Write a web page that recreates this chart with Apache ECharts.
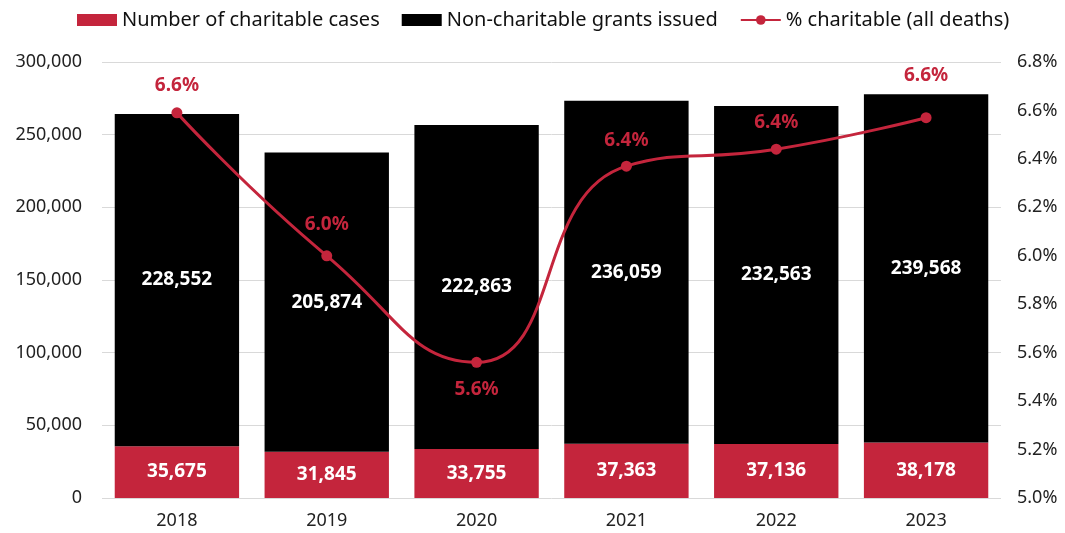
<!DOCTYPE html>
<html><head><meta charset="utf-8">
<script src="https://cdn.jsdelivr.net/npm/echarts@6/dist/echarts.min.js"></script>
<style>html,body{margin:0;padding:0;background:#fff}#c{width:1065px;height:533px}</style>
</head><body><div id="c"></div>
<script>
const years = ['2018','2019','2020','2021','2022','2023'];
const charitableCases = [35675, 31845, 33755, 37363, 37136, 38178];
const nonCharitableGrants = [228552, 205874, 222863, 236059, 232563, 239568];
const pctCharitable = [6.59, 6.00, 5.56, 6.37, 6.44, 6.57];
const pctLabelPos = ['top','top','bottom','top','top','top'];

const RED = '#C4253C';
const FONT = 'Noto Sans';
const fmt = v => v.toLocaleString('en-US');
const labelDist = [12, 16, 12, 11, 12, 27];

const chart = echarts.init(document.getElementById('c'));
chart.setOption({
  animation: false,
  textStyle: {fontFamily: FONT},
  legend: {
    top: 5, left: 72, itemWidth: 40, itemHeight: 12, itemGap: 22,
    textStyle: {fontSize: 20, color: '#111', fontFamily: FONT},
    data: [
      {name: 'Number of charitable cases', icon: 'rect'},
      {name: 'Non-charitable grants issued', icon: 'rect'},
      {name: '% charitable (all deaths)'}
    ]
  },
  grid: {left: 102, right: 64, top: 62, bottom: 35},
  xAxis: {
    type: 'category', data: years,
    axisLine: {show: false}, axisTick: {show: false},
    axisLabel: {fontSize: 18, color: '#222', margin: 14}
  },
  yAxis: [
    {type: 'value', min: 0, max: 300000, interval: 50000,
     axisLabel: {fontSize: 18, color: '#222', margin: 20, formatter: v => fmt(v)},
     splitLine: {lineStyle: {color: '#d9d9d9', width: 1}},
     axisLine: {show: false}, axisTick: {show: false}},
    {type: 'value', min: 5.0, max: 6.8, interval: 0.2, position: 'right',
     axisLabel: {fontSize: 18, color: '#222', margin: 16, formatter: v => v.toFixed(1) + '%'},
     splitLine: {show: false}, axisLine: {show: false}, axisTick: {show: false}}
  ],
  series: [
    {name: 'Number of charitable cases', type: 'bar', stack: 't', data: charitableCases,
     barWidth: '83%', itemStyle: {color: RED},
     label: {show: true, position: 'inside', color: '#fff', fontWeight: 'bold', fontSize: 19, formatter: p => fmt(p.value)}},
    {name: 'Non-charitable grants issued', type: 'bar', stack: 't', data: nonCharitableGrants,
     itemStyle: {color: '#000'},
     label: {show: true, position: 'inside', color: '#fff', fontWeight: 'bold', fontSize: 19, formatter: p => fmt(p.value)}},
    {name: '% charitable (all deaths)', type: 'line', yAxisIndex: 1, smooth: 0.5,
     symbol: 'circle', symbolSize: 11,
     lineStyle: {color: RED, width: 3}, itemStyle: {color: RED},
     data: pctCharitable.map((v, i) => ({value: v, label: {position: pctLabelPos[i], distance: labelDist[i]}})),
     label: {show: true, color: RED, fontWeight: 'bold', fontSize: 19,
             formatter: p => p.value.toFixed(1) + '%'}}
  ]
});
</script></body></html>
